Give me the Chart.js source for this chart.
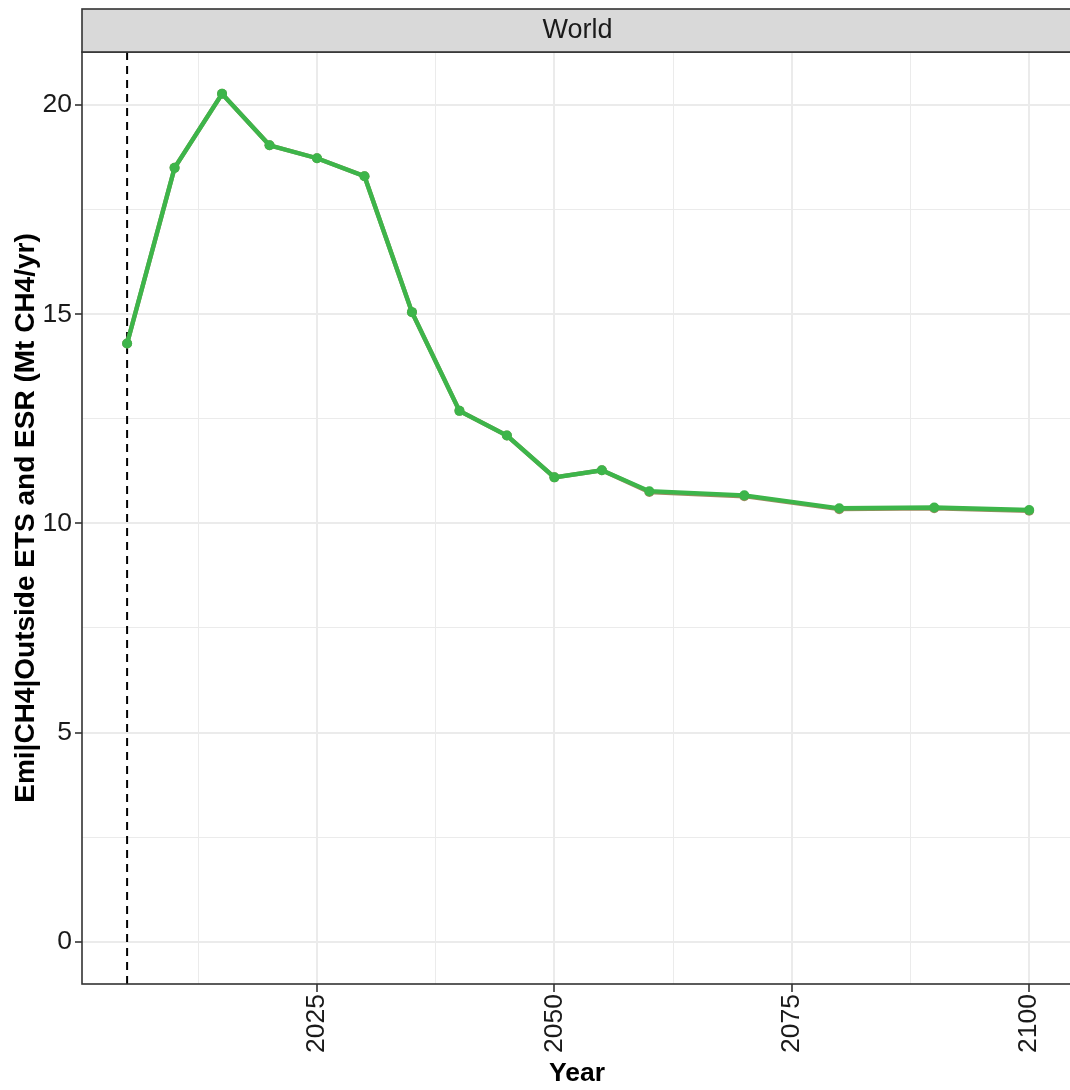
<!DOCTYPE html>
<html>
<head>
<meta charset="utf-8">
<script src="https://cdn.jsdelivr.net/npm/chart.js@4"></script>
<style>
html,body{margin:0;padding:0;background:#fff;}
#wrap{width:1070px;height:1090px;position:relative;}
</style>
</head>
<body>
<div id="wrap"><canvas id="c" width="1070" height="1090"></canvas></div>
<script>
const years = [2005,2010,2015,2020,2025,2030,2035,2040,2045,2050,2055,2060,2070,2080,2090,2100];
const seriesA = [14.30,18.50,20.27,19.04,18.73,18.30,15.05,12.69,12.10,11.10,11.27,10.77,10.67,10.36,10.38,10.32];
const seriesB = [14.30,18.50,20.27,19.04,18.73,18.30,15.05,12.69,12.10,11.10,11.27,10.75,10.65,10.34,10.36,10.30];
const xTicks = [2012.5,2025,2037.5,2050,2062.5,2075,2087.5,2100];
const yTicks = [0,2.5,5,7.5,10,12.5,15,17.5,20];
const refYear = 2005;
const panelTitle = "World";
const xTitle = "Year";
const yTitle = "Emi|CH4|Outside ETS and ESR (Mt CH4/yr)";

const FONT = "'Liberation Sans', Arial, Helvetica, sans-serif";
const isMajor = v => Math.abs(v % 5) < 1e-9;

const decor = {
  id: 'decor',
  beforeDatasetsDraw(chart) {
    const {ctx, chartArea: a, scales} = chart;
    const x = scales.x.getPixelForValue(refYear);
    ctx.save();
    ctx.beginPath();
    ctx.rect(a.left, a.top, a.right - a.left, a.bottom - a.top);
    ctx.clip();
    ctx.strokeStyle = '#000';
    ctx.lineWidth = 2;
    ctx.setLineDash([8, 6]);
    ctx.beginPath();
    ctx.moveTo(x, a.top);
    ctx.lineTo(x, a.bottom);
    ctx.stroke();
    ctx.restore();
  },
  afterDraw(chart) {
    const {ctx, chartArea: a} = chart;
    ctx.save();
    ctx.strokeStyle = '#333333';
    ctx.lineWidth = 1.6;
    ctx.strokeRect(a.left, a.top, a.right - a.left + 5, a.bottom - a.top);
    ctx.fillStyle = '#D9D9D9';
    ctx.fillRect(a.left, 9, a.right - a.left + 5, a.top - 9);
    ctx.strokeRect(a.left, 9, a.right - a.left + 5, a.top - 9);
    ctx.fillStyle = '#1A1A1A';
    ctx.font = '27px ' + FONT;
    ctx.textAlign = 'center';
    ctx.textBaseline = 'middle';
    ctx.fillText(panelTitle, 577.5, 31);
    ctx.fillStyle = '#000';
    ctx.font = 'bold 26.5px ' + FONT;
    ctx.fillText(xTitle, 577, 1074);
    ctx.translate(26, (a.top + a.bottom) / 2);
    ctx.rotate(-Math.PI / 2);
    ctx.font = 'bold 28px ' + FONT;
    ctx.fillText(yTitle, 0, 0);
    ctx.restore();
  }
};

new Chart(document.getElementById('c'), {
  type: 'line',
  data: {
    datasets: [
      {
        label: 'A',
        data: years.map((y, i) => ({x: y, y: seriesA[i]})),
        borderColor: '#3DB54A',
        backgroundColor: '#3DB54A',
        borderWidth: 4.4,
        pointRadius: 5,
        pointBorderWidth: 0,
        tension: 0
      },
      {
        label: 'B',
        data: years.map((y, i) => ({x: y, y: seriesB[i]})),
        borderColor: '#9C8B60',
        backgroundColor: '#9C8B60',
        borderWidth: 4.4,
        pointRadius: 5,
        pointBorderWidth: 0,
        tension: 0
      }
    ]
  },
  options: {
    responsive: false,
    animation: false,
    devicePixelRatio: 1,
    layout: {autoPadding: false, padding: {top: 52, left: 0, right: 0, bottom: 0}},
    plugins: {legend: {display: false}, tooltip: {enabled: false}},
    scales: {
      x: {
        type: 'linear',
        min: 2000.25,
        max: 2104.3,
        afterBuildTicks: s => { s.ticks = xTicks.map(v => ({value: v})); },
        afterFit: s => { s.height = 106; s.paddingLeft = 0; s.paddingRight = 0; },
        ticks: {
          autoSkip: false,
          minRotation: 90,
          maxRotation: 90,
          padding: 2,
          color: '#1A1A1A',
          font: {size: 26.5, family: FONT},
          callback: v => isMajor(v) ? String(v) : ''
        },
        grid: {
          color: '#EBEBEB',
          lineWidth: c => (c.tick && isMajor(c.tick.value)) ? 2 : 1,
          tickLength: 8,
          tickColor: c => (c.tick && isMajor(c.tick.value)) ? '#333333' : 'rgba(0,0,0,0)',
          tickWidth: 1.6
        },
        border: {display: false}
      },
      y: {
        type: 'linear',
        min: -1.013,
        max: 21.27,
        afterBuildTicks: s => { s.ticks = yTicks.map(v => ({value: v})); },
        afterFit: s => { s.width = 82; },
        ticks: {
          autoSkip: false,
          padding: 3,
          color: '#1A1A1A',
          font: {size: 26.5, family: FONT},
          callback: v => isMajor(v) ? String(v) : ''
        },
        grid: {
          color: '#EBEBEB',
          lineWidth: c => (c.tick && isMajor(c.tick.value)) ? 2 : 1,
          tickLength: 7,
          tickColor: c => (c.tick && isMajor(c.tick.value)) ? '#333333' : 'rgba(0,0,0,0)',
          tickWidth: 1.6
        },
        border: {display: false}
      }
    }
  },
  plugins: [decor]
});
</script>
</body>
</html>
